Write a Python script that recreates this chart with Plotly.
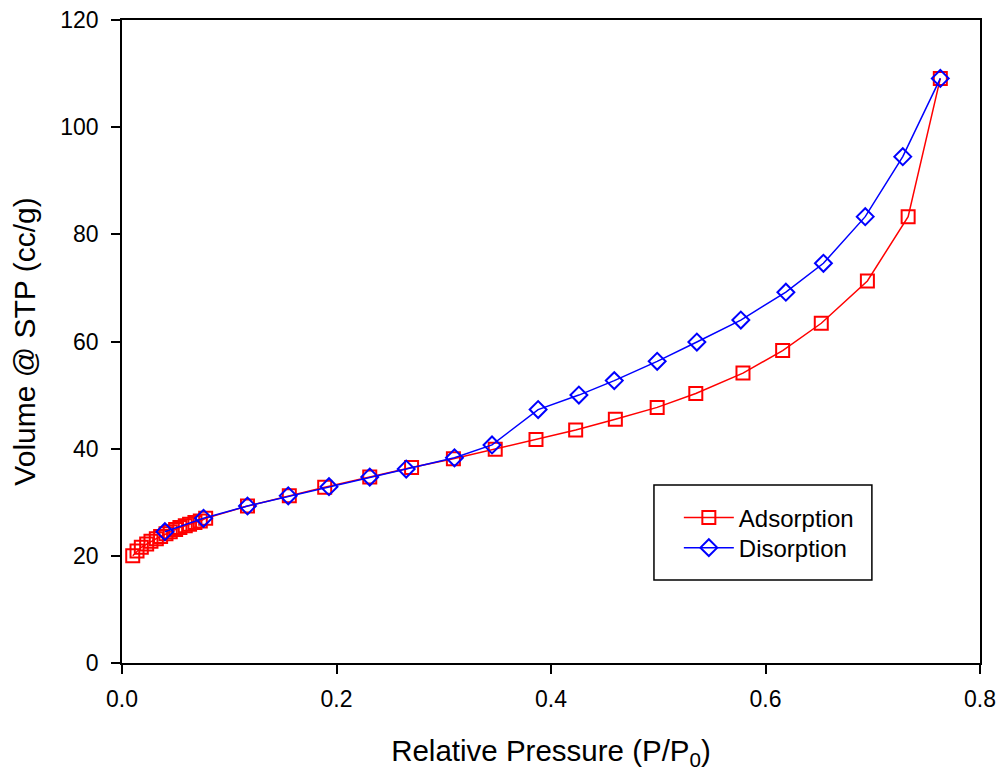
import plotly.graph_objects as go

# Adsorption branch (relative pressure, volume cc/g)
ads_p = [0.010, 0.014, 0.018, 0.023, 0.027, 0.032, 0.036, 0.041, 0.045, 0.050,
         0.054, 0.059, 0.063, 0.068, 0.073, 0.078, 0.117, 0.156, 0.189, 0.231,
         0.270, 0.309, 0.348, 0.386, 0.423, 0.460, 0.499, 0.535, 0.579, 0.616,
         0.652, 0.695, 0.733, 0.763]
ads_v = [20.0, 20.9, 21.6, 22.2, 22.7, 23.2, 23.6, 24.1, 24.5, 24.9,
         25.3, 25.6, 25.9, 26.2, 26.5, 27.0, 29.3, 31.2, 32.8, 34.7,
         36.5, 38.1, 39.9, 41.7, 43.5, 45.5, 47.7, 50.3, 54.1, 58.3,
         63.4, 71.3, 83.3, 109.1]

# Desorption branch
des_p = [0.763, 0.728, 0.693, 0.654, 0.619, 0.577, 0.536, 0.499, 0.459, 0.426,
         0.388, 0.345, 0.310, 0.265, 0.231, 0.193, 0.155, 0.117, 0.076, 0.040]
des_v = [109.1, 94.5, 83.3, 74.6, 69.2, 64.0, 59.9, 56.3, 52.7, 50.0,
         47.3, 40.7, 38.3, 36.2, 34.7, 32.9, 31.2, 29.3, 27.0, 24.5]

x_ticks = [0.0, 0.2, 0.4, 0.6, 0.8]
x_tick_text = ["0.0", "0.2", "0.4", "0.6", "0.8"]
y_ticks = [0, 20, 40, 60, 80, 100, 120]

FONT = "Liberation Sans, Arial, sans-serif"

fig = go.Figure()
fig.add_trace(go.Scatter(
    x=ads_p, y=ads_v, name="Adsorption", mode="lines+markers",
    line=dict(color="#ff0000", width=1.5),
    marker=dict(symbol="square-open", size=13, color="#ff0000",
                line=dict(width=2, color="#ff0000")),
    legend="legend", showlegend=True,
))
fig.add_trace(go.Scatter(
    x=des_p, y=des_v, name="Disorption", mode="lines+markers",
    line=dict(color="#0000ff", width=1.5),
    marker=dict(symbol="diamond-open", size=13, color="#0000ff",
                line=dict(width=2, color="#0000ff")),
    legend="legend2", showlegend=True,
))

axis_common = dict(
    showline=True, linecolor="black", linewidth=1.5, mirror=True,
    ticks="outside", ticklen=9, tickwidth=1.5, tickcolor="black",
    showgrid=False, zeroline=False, automargin=False,
    ticklabeloverflow="allow",
    tickfont=dict(family=FONT, size=23, color="black"),
)

fig.update_xaxes(
    range=[0, 0.8], tickvals=x_ticks, ticktext=x_tick_text,
    ticklabelstandoff=6,
    title=dict(text="Relative Pressure (P/P<sub>0</sub>)",
               font=dict(family=FONT, size=29.5, color="black"), standoff=29),
    **axis_common,
)
fig.update_yaxes(
    range=[0, 120], tickvals=y_ticks,
    ticklabelstandoff=8,
    title=dict(text="Volume @ STP (cc/g)",
               font=dict(family=FONT, size=30, color="black"), standoff=21),
    **axis_common,
)

# legend frame (paper coordinates)
fig.add_shape(type="rect", xref="paper", yref="paper",
              x0=0.620, x1=0.874, y0=0.129, y1=0.277,
              line=dict(color="black", width=1.5), fillcolor="white",
              layer="below")

legend_common = dict(
    x=0.649, xanchor="left", yanchor="middle",
    bgcolor="rgba(0,0,0,0)", borderwidth=0, itemwidth=50,
    font=dict(family=FONT, size=24, color="black"),
)

fig.update_layout(
    width=999, height=770,
    margin=dict(l=114, r=27, t=12, b=115, autoexpand=False),
    plot_bgcolor="white", paper_bgcolor="white",
    font=dict(family=FONT, color="black"),
    showlegend=True,
    legend=dict(y=0.2255, visible=True, **legend_common),
    legend2=dict(y=0.1788, visible=True, **legend_common),
)

fig.write_html("out.html")
